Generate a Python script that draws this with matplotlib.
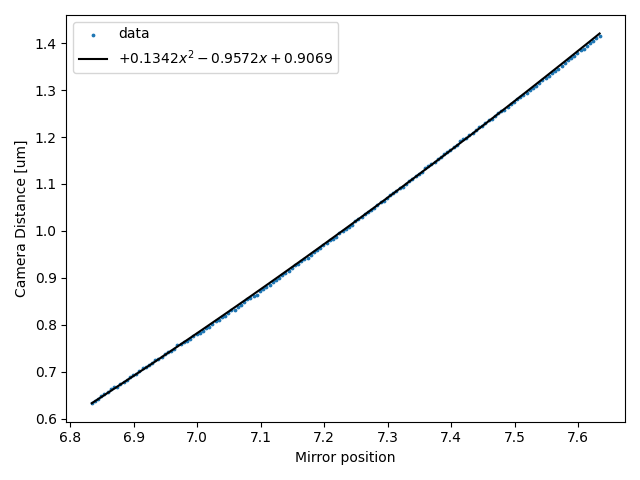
import numpy as np
import matplotlib
matplotlib.use('Agg')
import matplotlib.pyplot as plt

# mirror position readings (first pass)
pos = [6.834, 6.844, 6.854, 6.864, 6.874, 6.884, 6.894, 6.904, 6.914, 6.924,
       6.934, 6.944, 6.954, 6.964, 6.974, 6.984, 6.994, 7.004, 7.014, 7.024,
       7.034, 7.044, 7.054, 7.064, 7.074, 7.084, 7.094, 7.104, 7.114, 7.124,
       7.134, 7.144, 7.154, 7.164, 7.174, 7.184, 7.194, 7.204, 7.214, 7.224,
       7.234, 7.244, 7.254, 7.264, 7.274, 7.284, 7.294, 7.304, 7.314, 7.324,
       7.334, 7.344, 7.354, 7.364, 7.374, 7.384, 7.394, 7.404, 7.414, 7.424,
       7.434, 7.444, 7.454, 7.464, 7.474, 7.484, 7.494, 7.504, 7.514, 7.524,
       7.534, 7.544, 7.554, 7.564, 7.574, 7.584, 7.594, 7.604, 7.614, 7.624,
       7.634]

# camera distance (um)
dist = [0.6345, 0.6423, 0.6531, 0.6629, 0.6678, 0.6786, 0.6885, 0.6955, 0.7074, 0.7144,
        0.7244, 0.7315, 0.7426, 0.7486, 0.7598, 0.7659, 0.7771, 0.7833, 0.7935, 0.8008,
        0.8111, 0.8194, 0.8307, 0.8371, 0.8485, 0.8569, 0.8643, 0.8768, 0.8843, 0.8948,
        0.9064, 0.9150, 0.9266, 0.9352, 0.9428, 0.9545, 0.9632, 0.9750, 0.9838, 0.9955,
        1.0044, 1.0132, 1.0251, 1.0360, 1.0439, 1.0559, 1.0648, 1.0769, 1.0859, 1.0940,
        1.1060, 1.1172, 1.1263, 1.1385, 1.1477, 1.1569, 1.1691, 1.1784, 1.1907, 1.1990,
        1.2084, 1.2208, 1.2292, 1.2386, 1.2511, 1.2586, 1.2711, 1.2806, 1.2892, 1.3008,
        1.3094, 1.3211, 1.3298, 1.3415, 1.3522, 1.3640, 1.3728, 1.3846, 1.3934, 1.4053,
        1.4162]

# second pass readings
pos2 = [6.839, 6.849, 6.859, 6.869, 6.879, 6.889, 6.899, 6.909, 6.919, 6.929,
        6.939, 6.949, 6.959, 6.969, 6.979, 6.989, 6.999, 7.009, 7.019, 7.029,
        7.039, 7.049, 7.059, 7.069, 7.079, 7.089, 7.099, 7.109, 7.119, 7.129,
        7.139, 7.149, 7.159, 7.169, 7.179, 7.189, 7.199, 7.209, 7.219, 7.229,
        7.239, 7.249, 7.259, 7.269, 7.279, 7.289, 7.299, 7.309, 7.319, 7.329,
        7.339, 7.349, 7.359, 7.369, 7.379, 7.389, 7.399, 7.409, 7.419, 7.429,
        7.439, 7.449, 7.459, 7.469, 7.479, 7.489, 7.499, 7.509, 7.519, 7.529,
        7.539, 7.549, 7.559, 7.569, 7.579, 7.589, 7.599, 7.609, 7.619, 7.629]

dist2 = [0.6379, 0.6487, 0.6565, 0.6674, 0.6742, 0.6821, 0.6930, 0.7009, 0.7109, 0.7179,
         0.7280, 0.7371, 0.7441, 0.7562, 0.7624, 0.7705, 0.7807, 0.7879, 0.7962, 0.8075,
         0.8158, 0.8251, 0.8324, 0.8428, 0.8542, 0.8606, 0.8711, 0.8796, 0.8911, 0.8996,
         0.9102, 0.9208, 0.9294, 0.9410, 0.9487, 0.9594, 0.9691, 0.9799, 0.9877, 1.0005,
         1.0093, 1.0202, 1.0291, 1.0410, 1.0499, 1.0619, 1.0709, 1.0799, 1.0920, 1.1010,
         1.1101, 1.1223, 1.1334, 1.1416, 1.1528, 1.1640, 1.1733, 1.1826, 1.1949, 1.2042,
         1.2146, 1.2240, 1.2354, 1.2439, 1.2554, 1.2639, 1.2754, 1.2849, 1.2945, 1.3051,
         1.3148, 1.3255, 1.3372, 1.3459, 1.3576, 1.3684, 1.3782, 1.3880, 1.3999, 1.4108]

# quadratic fit coefficients from the legend
coef = [0.1342, -0.9572, 0.9069]

x = np.array(pos + pos2)
y = np.array(dist + dist2)
xf = np.array(pos)

plt.figure(figsize=(6.4, 4.8), dpi=100)
plt.scatter(x, y, s=3, label='data')
plt.plot(xf, np.polyval(coef, xf), color='black',
         label=r'$+0.1342x^{2} - 0.9572x + 0.9069$')
plt.xlabel('Mirror position')
plt.ylabel('Camera Distance [um]')
plt.legend()
plt.tight_layout()
plt.savefig('out.png')
